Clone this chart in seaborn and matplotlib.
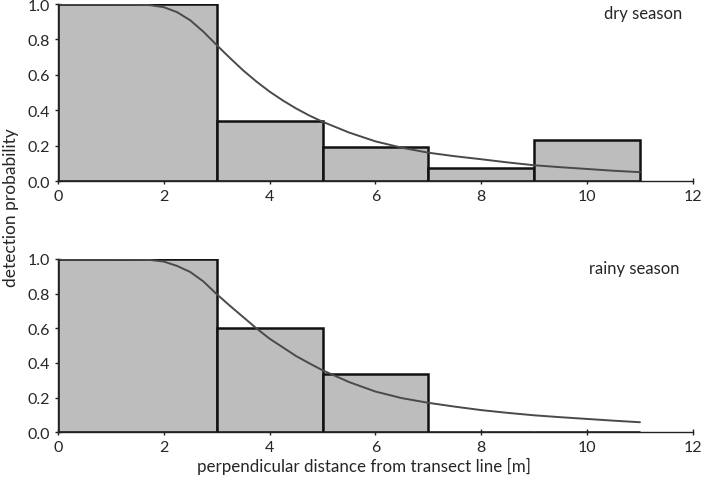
import numpy as np
import pandas as pd
import matplotlib
matplotlib.use("Agg")
import matplotlib.pyplot as plt
import seaborn as sns

# ---- data ----
bin_edges = [0, 3, 5, 7, 9, 11]
bin_mids = [1.5, 4, 6, 8, 10]
dry_bars = [1.0, 0.34, 0.19, 0.075, 0.23]
rainy_bars = [1.0, 0.60, 0.335, 0.0, 0.0]

curve_x = [0, 0.5, 1, 1.5, 1.75, 2, 2.25, 2.5, 2.75, 3, 3.25, 3.5, 3.75, 4,
           4.25, 4.5, 4.75, 5, 5.5, 6, 6.5, 7, 7.5, 8, 8.5, 9, 9.5, 10,
           10.5, 11]
dry_curve = [1.0, 1.0, 1.0, 0.998, 0.993, 0.982, 0.954, 0.908, 0.843, 0.768,
             0.695, 0.625, 0.562, 0.505, 0.455, 0.41, 0.37, 0.335, 0.274,
             0.224, 0.188, 0.16, 0.14, 0.123, 0.105, 0.089, 0.078, 0.068,
             0.058, 0.05]
rainy_curve = [1.0, 1.0, 1.0, 0.998, 0.994, 0.985, 0.96, 0.925, 0.87, 0.797,
               0.73, 0.665, 0.6, 0.54, 0.49, 0.44, 0.398, 0.358, 0.29,
               0.235, 0.197, 0.17, 0.148, 0.128, 0.112, 0.098, 0.087, 0.077,
               0.067, 0.058]

panel_labels = ["dry season", "rainy season"]
x_ticks = [0, 2, 4, 6, 8, 10, 12]
y_ticks = [0.0, 0.2, 0.4, 0.6, 0.8, 1.0]

sns.set_style("white")
plt.rcParams["font.family"] = ["Lato", "DejaVu Sans"]

fig = plt.figure(figsize=(7.02, 4.81), dpi=100)
ax1 = fig.add_axes([0.0826, 0.6216, 0.9044, 0.368])
ax2 = fig.add_axes([0.0826, 0.0992, 0.9044, 0.3603])

label_pos = [(0.921, 0.949), (0.908, 0.948)]
for ax, bars, curve, label, pos in [
    (ax1, dry_bars, dry_curve, panel_labels[0], label_pos[0]),
    (ax2, rainy_bars, rainy_curve, panel_labels[1], label_pos[1]),
]:
    df = pd.DataFrame({"x": bin_mids, "w": bars})
    sns.histplot(data=df, x="x", weights="w", bins=bin_edges, stat="count",
                 color="#bdbdbd", alpha=1.0, edgecolor="#111111",
                 linewidth=1.8, ax=ax)
    cdf = pd.DataFrame({"x": curve_x, "y": curve})
    sns.lineplot(data=cdf, x="x", y="y", color="#4a4a4a", linewidth=1.4, ax=ax)
    ax.set_xlim(0, 12)
    ax.set_ylim(0, 1.0)
    ax.set_xticks(x_ticks)
    ax.set_yticks(y_ticks)
    ax.set_yticklabels([f"{v:.1f}" for v in y_ticks])
    ax.set_xlabel("")
    ax.set_ylabel("")
    for s in ["top", "right"]:
        ax.spines[s].set_visible(False)
    for s in ["left", "bottom"]:
        ax.spines[s].set_color("#222222")
        ax.spines[s].set_linewidth(1.0)
    ax.tick_params(axis="both", direction="inout", length=5, width=1.0,
                   color="#222222", labelsize=11.5, pad=3,
                   left=True, bottom=True)
    ax.text(pos[0], pos[1], label, transform=ax.transAxes,
            ha="center", va="center", fontsize=12)

fig.text(0.518, 0.031, "perpendicular distance from transect line [m]",
         ha="center", va="center", fontsize=12.2)
fig.text(0.016, 0.569, "detection probability", rotation=90,
         ha="center", va="center", fontsize=12.5)

fig.savefig("out.png", dpi=100)
